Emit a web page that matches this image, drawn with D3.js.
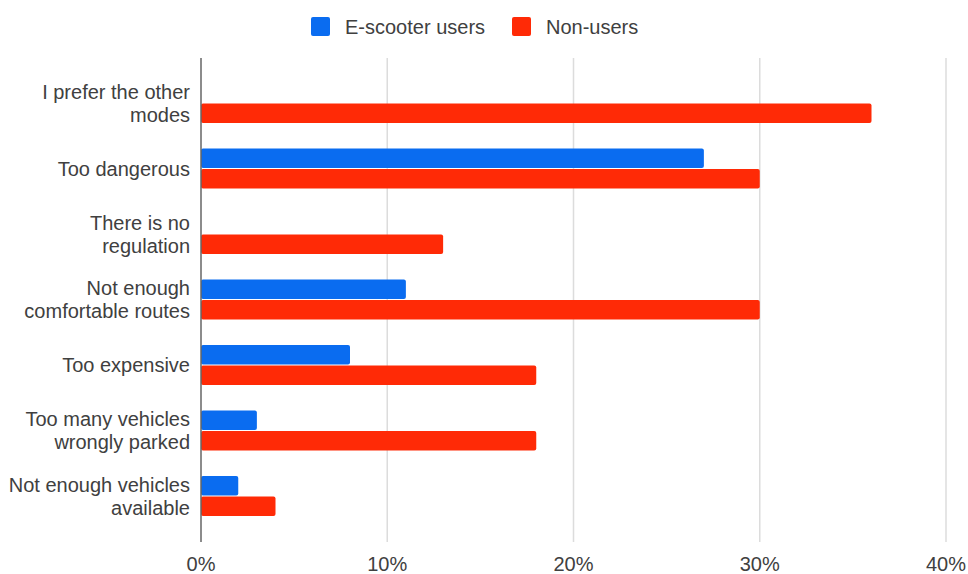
<!DOCTYPE html>
<html><head><meta charset="utf-8">
<script src="https://cdn.jsdelivr.net/npm/d3@7/dist/d3.min.js"></script>
<style>body{margin:0;background:#fff;}text{font-family:"Liberation Sans",Arial,sans-serif;}</style>
</head><body><svg id="c" width="968" height="574"></svg>
<script>
const categories = ["I prefer the other modes","Too dangerous","There is no regulation","Not enough comfortable routes","Too expensive","Too many vehicles wrongly parked","Not enough vehicles available"];
const categoryLines = [["I prefer the other","modes"],["Too dangerous"],["There is no","regulation"],["Not enough","comfortable routes"],["Too expensive"],["Too many vehicles","wrongly parked"],["Not enough vehicles","available"]];
const seriesNames = ["E-scooter users","Non-users"];
const scooterUsers = [0,27,0,11,8,3,2];
const nonUsers = [36,30,13,30,18,18,4];
const xTicks = [0,10,20,30,40];
const colors = ["#0a6cf0","#ff2a06"];

const svg = d3.select("#c");
const pLeft = 201, pRight = 946, pTop = 58, pBottom = 542;
const x = d3.scaleLinear().domain([0,40]).range([pLeft,pRight]);
const y = d3.scaleBand().domain(categories).range([70.25,528.75]).paddingInner(0.39).paddingOuter(0.195);
const ys = d3.scaleBand().domain(seriesNames).range([0,y.bandwidth()]).paddingInner(0.05);

// gridlines
svg.append("g").selectAll("line").data(xTicks.filter(d=>d>0)).join("line")
  .attr("x1",d=>x(d)).attr("x2",d=>x(d)).attr("y1",pTop).attr("y2",pBottom)
  .attr("stroke","#dcdcdc").attr("stroke-width",1.5);

const data = [scooterUsers, nonUsers];
data.forEach((vals,si)=>{
  svg.append("g").selectAll("rect").data(vals.map((v,i)=>({v,c:categories[i]})).filter(d=>d.v>0)).join("rect")
    .attr("x",x(0)).attr("y",d=>y(d.c)+ys(seriesNames[si]))
    .attr("width",d=>x(d.v)-x(0)).attr("height",ys.bandwidth())
    .attr("rx",2).attr("fill",colors[si]);
});

// zero axis line
svg.append("line").attr("x1",x(0)).attr("x2",x(0)).attr("y1",pTop).attr("y2",pBottom)
  .attr("stroke","#666").attr("stroke-width",1.5);

// tick labels
svg.append("g").selectAll("text").data(xTicks).join("text")
  .attr("x",d=>x(d)).attr("y",571).attr("text-anchor","middle")
  .attr("font-size",20).attr("fill","#404040").text(d=>d+"%");

// category labels
const lh = 23;
categories.forEach((c,i)=>{
  const lines = categoryLines[i];
  const cy = y(c)+y.bandwidth()/2;
  const t = svg.append("text").attr("x",190).attr("text-anchor","end").attr("font-size",20).attr("fill","#404040");
  lines.forEach((l,j)=>{
    t.append("tspan").attr("x",190).attr("y",cy+7+(j-(lines.length-1)/2)*lh).text(l);
  });
});

// legend
const lg = svg.append("g");
const legendX = [311,512];
seriesNames.forEach((s,i)=>{
  lg.append("rect").attr("x",legendX[i]).attr("y",17).attr("width",19).attr("height",19).attr("rx",2).attr("fill",colors[i]);
  lg.append("text").attr("x",legendX[i]+34).attr("y",34).attr("font-size",20).attr("fill","#404040").text(s);
});
</script></body></html>
